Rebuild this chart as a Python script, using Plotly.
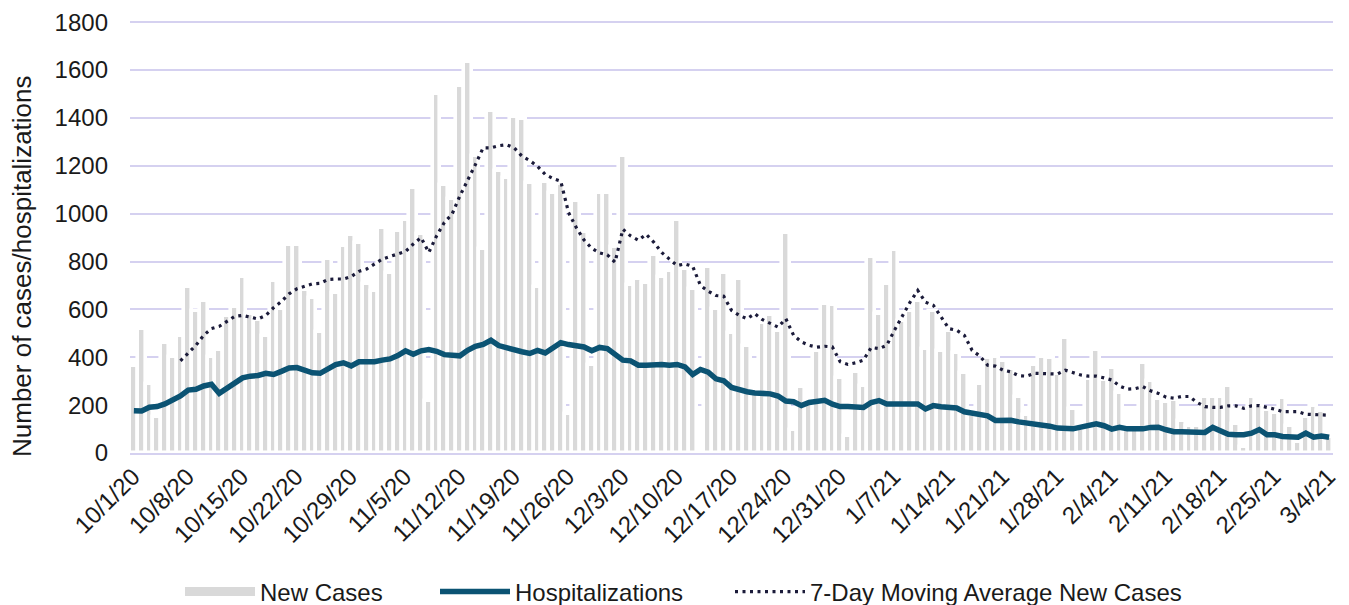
import datetime as dt
import plotly.graph_objects as go

# ---- data -------------------------------------------------------------
start = dt.date(2020, 10, 1)
dates = [start + dt.timedelta(days=k) for k in range(155)]
categories = [f"{d.month}/{d.day}/{d.year % 100}" for d in dates]
tick_labels = categories[::7]

new_cases = [
    363, 520, 288, 150, 460, 400, 489, 693, 593, 637,
    402, 429, 574, 612, 734, 580, 554, 489, 720, 600,
    870, 870, 679, 648, 504, 809, 668, 866, 910, 878,
    708, 676, 939, 752, 928, 972, 1108, 914, 219, 1499,
    1119, 1063, 1535, 1632, 1240, 852, 1427, 1180, 1150, 1402,
    1394, 1129, 695, 1133, 1086, 1125, 162, 1053, 925, 367,
    1086, 1086, 860, 1240, 704, 725, 712, 828, 734, 762,
    974, 769, 686, 0, 776, 603, 752, 501, 726, 447,
    250, 543, 578, 510, 920, 97, 277, 210, 425, 623,
    618, 312, 72, 337, 280, 817, 579, 708, 849, 550,
    593, 637, 434, 593, 425, 508, 418, 333, 160, 288,
    395, 402, 385, 353, 236, 159, 367, 402, 395, 330,
    482, 183, 100, 309, 429, 305, 355, 252, 100, 100,
    377, 301, 225, 215, 222, 132, 114, 114, 236, 236,
    236, 281, 122, 27, 234, 200, 180, 169, 229, 111,
    44, 150, 197, 176, 65,
]

hospitalizations = [
    177, 176, 191, 194, 205, 222, 238, 263, 266, 280,
    287, 249, 273, 291, 314, 321, 324, 333, 328, 341,
    355, 357, 346, 335, 333, 353, 369, 377, 364, 381,
    380, 381, 388, 393, 407, 427, 413, 427, 432, 425,
    411, 411, 406, 429, 446, 454, 471, 449, 439, 429,
    423, 416, 429, 418, 443, 461, 453, 450, 443, 427,
    441, 436, 411, 388, 385, 367, 367, 369, 370, 367,
    370, 360, 328, 349, 338, 310, 302, 274, 263, 256,
    251, 249, 247, 238, 217, 214, 198, 211, 218, 220,
    204, 194, 194, 191, 190, 211, 219, 205, 204, 202,
    201, 205, 184, 198, 193, 188, 188, 172, 166, 161,
    155, 136, 136, 137, 130, 126, 123, 118, 112, 104,
    101, 101, 108, 116, 122, 114, 100, 107, 101, 101,
    101, 107, 108, 97, 89, 89, 89, 90, 86, 107,
    90, 78, 76, 76, 83, 98, 76, 76, 69, 66,
    66, 83, 66, 71, 66,
]

moving_avg = [
    None, None, None, None, None, None, 385, 418, 450, 492,
    520, 529, 550, 571, 575, 568, 560, 575, 607, 633,
    665, 686, 695, 707, 709, 725, 727, 727, 737, 759,
    769, 790, 810, 821, 831, 842, 873, 900, 838, 907,
    963, 998, 1074, 1136, 1205, 1275, 1275, 1284, 1288, 1275,
    1240, 1222, 1198, 1164, 1147, 1136, 1005, 942, 890, 855,
    836, 828, 797, 935, 907, 889, 914, 880, 838, 810,
    783, 790, 780, 700, 676, 658, 655, 596, 575, 561,
    582, 557, 543, 526, 561, 492, 464, 450, 442, 446,
    443, 381, 370, 377, 388, 441, 436, 450, 513, 575,
    630, 679, 630, 617, 568, 520, 513, 492, 429, 405,
    367, 363, 346, 339, 323, 321, 333, 333, 333, 330,
    346, 335, 326, 321, 321, 314, 305, 280, 267, 269,
    277, 260, 249, 233, 229, 236, 236, 211, 194, 191,
    191, 197, 197, 187, 197, 198, 191, 183, 173, 172,
    173, 162, 161, 160, 158,
]

y_ticks = [0, 200, 400, 600, 800, 1000, 1200, 1400, 1600, 1800]

# ---- styles -------------------------------------------------------------
FONT = "Liberation Sans, Arial, sans-serif"
TXT = "#1a1a1a"
GRID = "#d5d1f0"
BAR = "#d9d9d9"
HOSP = "#0b5373"
MA = "#1b1b3a"
FS = 24

# page has an 8px body margin; figure is sized to fit inside it
W, H = 1333, 597
ML, MT, MB = 122, 13, 152
PLOT_H = H - MT - MB

fig = go.Figure()

fig.add_trace(go.Bar(
    x=categories, y=new_cases, name="New Cases",
    marker=dict(color=BAR, line=dict(color="white", width=3.6)),
    showlegend=False, hoverinfo="x+y",
))
# legend entry for the bars drawn as a thick line swatch
fig.add_trace(go.Scatter(
    x=[None], y=[None], mode="lines", name="New Cases",
    line=dict(color=BAR, width=9), legend="legend",
))
fig.add_trace(go.Scatter(
    x=categories, y=hospitalizations, mode="lines", name="Hospitalizations",
    line=dict(color=HOSP, width=5.5), legend="legend2",
))
fig.add_trace(go.Scatter(
    x=categories, y=moving_avg, mode="lines",
    name="7-Day Moving Average New Cases",
    line=dict(color=MA, width=3.2, dash="3px,4.5px"), legend="legend3",
))

leg_common = dict(
    orientation="h", xref="container", yref="container",
    xanchor="left", yanchor="middle", y=(H - 584) / H,
    font=dict(family=FONT, size=FS, color=TXT),
    itemwidth=70, bgcolor="rgba(0,0,0,0)",
)

# y-axis title (placed as rotated text, slightly below plot centre as in source)
fig.add_annotation(
    text="Number of cases/hospitalizations",
    xref="paper", yref="paper",
    x=-(ML - 14) / 1203, y=(MT + PLOT_H - (266 - 8)) / PLOT_H,
    xanchor="center", yanchor="middle", textangle=-90, showarrow=False,
    font=dict(family=FONT, size=26, color=TXT),
)

fig.update_layout(
    width=W, height=H,
    margin=dict(l=ML, r=8, t=MT, b=MB, autoexpand=False),
    paper_bgcolor="white", plot_bgcolor="white",
    font=dict(family=FONT, size=FS, color=TXT),
    bargap=0,
    legend=dict(leg_common, x=172 / W),
    legend2=dict(leg_common, x=427 / W),
    legend3=dict(leg_common, x=722 / W),
    xaxis=dict(
        type="category", automargin=False,
        tickmode="array", tickvals=tick_labels, ticktext=tick_labels,
        tickangle=-45, tickfont=dict(size=FS, color=TXT),
        showgrid=False, showline=True, linecolor=GRID, linewidth=2,
        ticks="", ticklabelstandoff=-2, ticklabelshift=-1,
        ticklabeloverflow="allow",
        range=[-0.5, 154.5],
    ),
    yaxis=dict(
        range=[0, 1805], tickmode="array", automargin=False,
        tickvals=y_ticks,
        showgrid=True, gridcolor=GRID, gridwidth=1.6,
        zeroline=False, ticks="", ticklabelstandoff=21,
        ticklabeloverflow="allow",
        tickfont=dict(size=FS, color=TXT),
    ),
)

fig.write_html("out.html")
